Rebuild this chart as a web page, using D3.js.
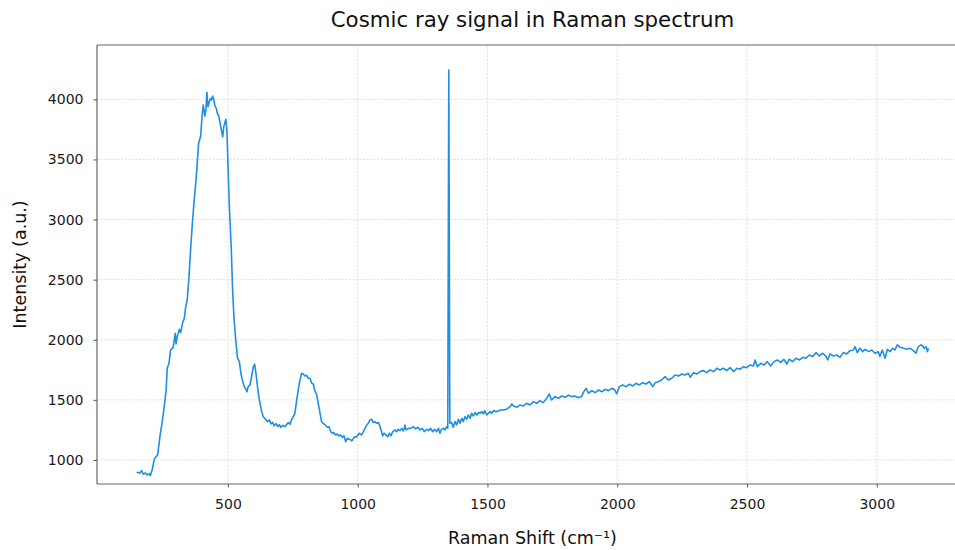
<!DOCTYPE html>
<html>
<head>
<meta charset="utf-8">
<script src="https://cdn.jsdelivr.net/npm/d3@7/dist/d3.min.js"></script>
<style>
  html, body { margin: 0; padding: 0; background: #ffffff; }
  svg { display: block; font-family: "DejaVu Sans", sans-serif; }
</style>
</head>
<body>
<svg id="chart" width="955" height="550"></svg>
<script>
// Raman spectrum with a single cosmic-ray spike near 1350 cm⁻¹
const shift = [
  148,161,167,174,182,189,197,201,208,216,221,229,238,247,256,262,
  266,273,279,289,297,300,306,313,318,325,332,337,343,350,356,363,369,
  379,387,395,400,405,411,415,419,423,428,433,437,441,446,450,455,460,465,470,476,480,484,488,492,496,500,505,
  513,518,523,530,537,544,550,557,563,569,573,578,585,591,598,603,608,614,620,
  630,636,645,653,659,666,672,678,685,692,698,704,711,720,726,733,739,745,752,758,765,771,777,784,790,797,803,810,816,823,829,835,842,848,855,861,867,875,883,889,896,902,908,915,921,928,934,941,947,954,960,966,
  970,977,986,996,1006,1015,1022,1028,1035,1041,1047,1054,1060,1066,1073,1080,1086,1092,1096,1102,1109,1116,1122,1128,1135,1144,1150,1156,1163,1169,1176,1182,1186,1195,1204,1214,1223,1232,1240,1249,1256,1266,1273,1281,1289,1296,1304,1311,1317,1323,1330,1336,1343,1347,
  1351,
  1355,1362,1368,1375,1381,1388,1394,1401,1407,1413,1420,1426,1433,1439,1446,1452,1459,1465,1471,1478,1484,1490,1497,1503,1510,1516,1523,1536,1549,
  1561,1574,1587,1594,1600,1613,1625,1638,1651,1664,1677,1690,1702,1715,1728,1738,1747,1760,1773,1786,1799,1812,1825,1837,1850,1863,1869,1880,1889,1902,1915,1928,1941,1953,1966,1979,1991,1998,
  2008,2021,2034,2047,2060,2072,2085,2098,2111,2124,2137,2146,2158,2171,2184,2197,2210,2223,2236,2249,2261,2274,2281,2294,2307,2319,2332,2345,2358,2371,2384,
  2396,2409,2422,2435,2448,2461,2473,2486,2499,2512,2525,2531,2540,2553,2566,2578,2591,2604,2617,2630,2642,2653,2663,2676,2689,2702,2715,2727,2740,2753,2766,2779,2792,2805,2811,2820,2833,2846,2858,2871,2884,2897,2910,2916,2925,2935,2946,2955,2968,2981,2993,3006,3012,3021,3032,3041,3051,3061,3070,3079,3090,3103,3116,3128,3141,3151,3160,3170,3177,3183,3190,3195,3199
];
const intensity = [
  898,892,911,881,892,875,886,870,917,1005,1022,1041,1194,1318,1471,1582,
  1763,1804,1915,1937,2054,1965,2040,2087,2059,2137,2179,2270,2331,2525,2747,2969,3135,
  3384,3634,3695,3855,3953,3861,3911,4058,3938,3980,4008,3994,4027,3994,3944,3925,3878,3861,3800,3731,3689,3772,3806,3833,3745,3468,3135,
  2747,2414,2192,1998,1846,1818,1721,1651,1610,1588,1568,1610,1624,1693,1776,1796,1721,1610,1513,
  1402,1360,1338,1319,1333,1299,1313,1285,1302,1277,1294,1272,1288,1277,1294,1311,1297,1333,1360,1388,1499,1582,1660,1721,1715,1699,1704,1680,1680,1638,1632,1576,1541,1471,1388,1319,1305,1291,1272,1277,1235,1222,1227,1208,1216,1200,1208,1188,1200,1152,1180,1172,
  1172,1158,1188,1194,1222,1208,1235,1263,1291,1305,1333,1338,1311,1319,1305,1311,1277,1235,1200,1222,1208,1194,1222,1200,1235,1250,1235,1255,1244,1263,1241,1291,1250,1263,1263,1277,1258,1272,1250,1263,1235,1255,1244,1263,1235,1255,1235,1263,1222,1255,1263,1250,1277,1263,
  4244,
  1305,1311,1272,1319,1291,1338,1305,1347,1319,1360,1338,1374,1347,1388,1366,1394,1374,1394,1388,1402,1383,1410,1374,1388,1402,1388,1410,1402,1416,
  1416,1422,1443,1466,1449,1438,1457,1449,1471,1457,1485,1471,1493,1477,1513,1549,1499,1527,1513,1532,1521,1538,1527,1532,1518,1527,1560,1596,1555,1576,1560,1582,1568,1588,1576,1596,1582,1549,
  1610,1624,1610,1630,1616,1638,1624,1643,1632,1651,1610,1643,1651,1665,1693,1665,1680,1707,1699,1715,1707,1721,1688,1726,1715,1735,1743,1726,1749,1735,1763,
  1749,1763,1743,1768,1735,1763,1754,1776,1768,1790,1782,1832,1776,1804,1790,1818,1782,1818,1832,1812,1838,1798,1838,1818,1846,1832,1854,1846,1873,1860,1893,1865,1888,1860,1832,1882,1865,1873,1854,1893,1882,1909,1915,1943,1893,1929,1901,1921,1901,1915,1888,1901,1860,1915,1846,1921,1901,1929,1915,1957,1937,1929,1921,1929,1909,1888,1943,1957,1948,1929,1943,1901,1929
];
const xTicks = [500, 1000, 1500, 2000, 2500, 3000];
const yTicks = [1000, 1500, 2000, 2500, 3000, 3500, 4000];
const xLabels = ["500", "1000", "1500", "2000", "2500", "3000"];
const yLabels = ["1000", "1500", "2000", "2500", "3000", "3500", "4000"];

const n = Math.min(shift.length, intensity.length);
const points = shift.slice(0, n).map((s, i) => ({ s, v: intensity[i] }));

const svg = d3.select("#chart");
const plotL = 97, plotT = 45, plotR = 968, plotB = 484;

const x = d3.scaleLinear().domain([-4.5, 3351.5]).range([plotL, plotR]);
const y = d3.scaleLinear().domain([800, 4452]).range([plotB, plotT]);

svg.append("defs").append("clipPath").attr("id", "plot-clip")
  .append("rect").attr("x", plotL).attr("y", plotT)
  .attr("width", plotR - plotL).attr("height", plotB - plotT);

// grid
const grid = svg.append("g").attr("stroke", "#d8d8d8").attr("stroke-width", 0.8)
  .attr("stroke-dasharray", "2,1.5");
grid.selectAll(".gx").data(xTicks).join("line")
  .attr("x1", d => x(d)).attr("x2", d => x(d)).attr("y1", plotT).attr("y2", plotB);
grid.selectAll(".gy").data(yTicks).join("line")
  .attr("y1", d => y(d)).attr("y2", d => y(d)).attr("x1", plotL).attr("x2", plotR);

// spectrum line
const line = d3.line().x(d => x(d.s)).y(d => y(d.v));
svg.append("path").datum(points)
  .attr("clip-path", "url(#plot-clip)")
  .attr("fill", "none").attr("stroke", "#1e8fe1").attr("stroke-width", 1.6)
  .attr("stroke-linejoin", "round")
  .attr("d", line);

// axes
const xAxis = d3.axisBottom(x).tickValues(xTicks).tickFormat((d, i) => xLabels[i])
  .tickSize(3.5).tickPadding(12);
const yAxis = d3.axisLeft(y).tickValues(yTicks).tickFormat((d, i) => yLabels[i])
  .tickSize(3.5).tickPadding(10);

const gx = svg.append("g").attr("transform", `translate(0,${plotB})`).call(xAxis);
const gy = svg.append("g").attr("transform", `translate(${plotL},0)`).call(yAxis);
[gx, gy].forEach(g => {
  g.select(".domain").remove();
  g.selectAll(".tick line").attr("stroke", "#555");
  g.selectAll(".tick text").attr("fill", "#1a1a1a").style("font-size", "14px")
    .style("font-family", "'DejaVu Sans', sans-serif");
});

// spines: left, bottom, top
const spines = svg.append("g").attr("stroke", "#666").attr("stroke-width", 1.2).attr("fill", "none");
spines.append("line").attr("x1", plotL).attr("x2", plotL).attr("y1", plotT).attr("y2", plotB);
spines.append("line").attr("x1", plotL).attr("x2", plotR).attr("y1", plotB).attr("y2", plotB);
spines.append("line").attr("x1", plotL).attr("x2", plotR).attr("y1", plotT).attr("y2", plotT);

// title and axis labels
svg.append("text").attr("x", (plotL + plotR) / 2).attr("y", 27)
  .attr("text-anchor", "middle").attr("fill", "#111")
  .style("font-size", "21.3px").text("Cosmic ray signal in Raman spectrum");
svg.append("text").attr("x", (plotL + plotR) / 2).attr("y", 544)
  .attr("text-anchor", "middle").attr("fill", "#111")
  .style("font-size", "17.5px").text("Raman Shift (cm⁻¹)");
svg.append("text").attr("transform", `translate(26,${(plotT + plotB) / 2}) rotate(-90)`)
  .attr("text-anchor", "middle").attr("fill", "#111")
  .style("font-size", "17.5px").text("Intensity (a.u.)");
</script>
</body>
</html>
